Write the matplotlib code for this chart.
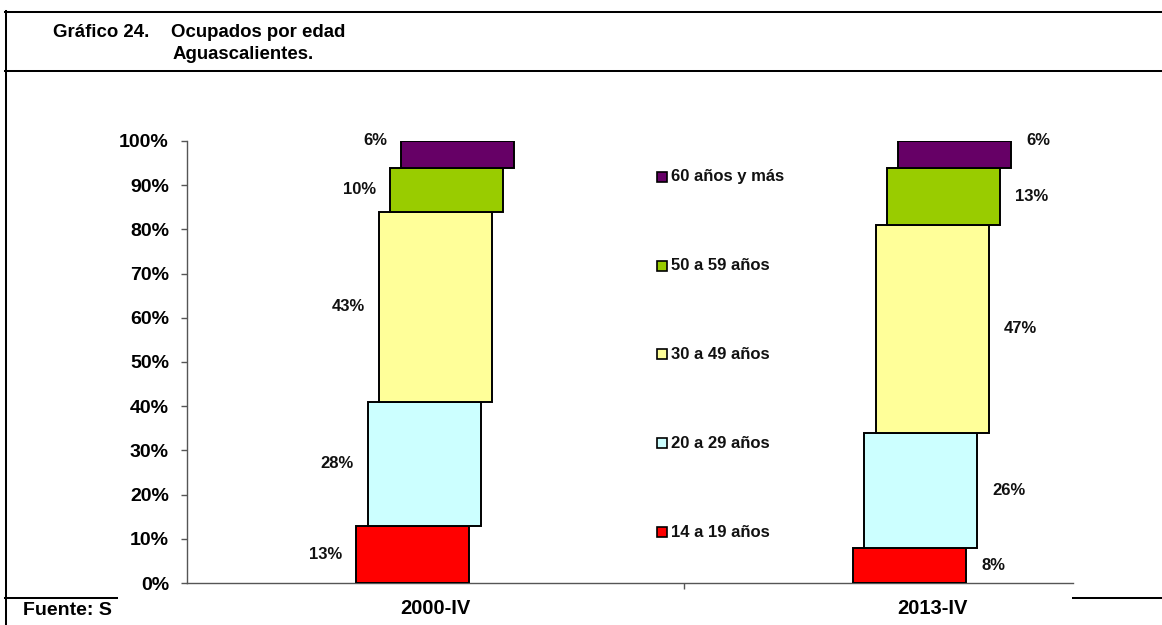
import matplotlib
matplotlib.use("Agg")
import matplotlib.pyplot as plt
from matplotlib.lines import Line2D
from matplotlib.patches import Rectangle

plt.rcParams['font.family'] = ['Liberation Sans', 'DejaVu Sans']
plt.rcParams['font.weight'] = 'bold'

# ---- data ----
categories = ["2000-IV", "2013-IV"]
series = ["14 a 19 años", "20 a 29 años", "30 a 49 años", "50 a 59 años", "60 años y más"]
values_2000 = [13, 28, 43, 10, 6]
values_2013 = [8, 26, 47, 13, 6]
colors = ["#FF0000", "#CCFFFF", "#FFFF99", "#99CC00", "#660066"]
yticks = [0, 10, 20, 30, 40, 50, 60, 70, 80, 90, 100]
ytick_labels = [f"{t}%" for t in yticks]
title_num = "Gráfico 24."
title_l1 = "Ocupados por edad"
title_l2 = "Aguascalientes."
source = "Fuente: S"

W, H = 1162, 625
fig = plt.figure(figsize=(W / 100, H / 100), dpi=100)

def fx(px):
    return px / W

def fy(py):
    return 1 - py / H

# axes placement (pixel based)
ax_l, ax_r, ax_b, ax_t = 187, 1073, 583, 141
ax = fig.add_axes([fx(ax_l), fy(ax_b), fx(ax_r - ax_l), (ax_b - ax_t) / H])
ax.set_ylim(0, 100)
ax.set_xlim(-0.5, 1.2837)

bar_w = 0.2274
step = 0.02264
data = [values_2000, values_2013]
for ci, vals in enumerate(data):
    bottom = 0
    for si, v in enumerate(vals):
        xc = ci + (si - 2) * step
        ax.bar(xc, v, width=bar_w, bottom=bottom, color=colors[si],
               edgecolor="black", linewidth=1.4, zorder=3)
        ylab = bottom + v / 2 if si < len(vals) - 1 else bottom + v
        if ci == 0:
            ax.annotate(f"{v}%", xy=(xc - bar_w / 2, ylab), xytext=(-10, 0),
                        textcoords="offset points", ha="right", va="center",
                        fontsize=12, fontweight="bold", color="#111111")
        else:
            ax.annotate(f"{v}%", xy=(xc + bar_w / 2, ylab), xytext=(11, 0),
                        textcoords="offset points", ha="left", va="center",
                        fontsize=12, fontweight="bold", color="#111111")
        bottom += v

# legend drawn manually (top entry = last series)
leg_x = 0.4467
sq_w = 10 / 497
sq_h = 10 / 4.42
for si, name in enumerate(series):
    yc = 11.5 + 20.1 * si
    ax.add_patch(Rectangle((leg_x, yc - sq_h / 2), sq_w, sq_h, facecolor=colors[si],
                           edgecolor="black", linewidth=1.2, clip_on=False, zorder=4))
    ax.text(leg_x + sq_w + 4 / 497, yc, name, ha="left", va="center",
            fontsize=12, fontweight="bold", color="#111111")

# axes styling
for s in ["top", "right"]:
    ax.spines[s].set_visible(False)
for s in ["left", "bottom"]:
    ax.spines[s].set_color("#555555")
    ax.spines[s].set_linewidth(1.0)
ax.set_yticks(yticks)
ax.set_yticklabels(ytick_labels, fontsize=14, fontweight="bold")
ax.tick_params(axis="y", length=4.5, width=1, color="#555555", pad=8.5)
ax.set_xticks([0.5])
ax.set_xticklabels([""])
ax.tick_params(axis="x", which="major", length=4.5, width=1, color="#555555")
ax.set_xticks([0, 1], minor=True)
ax.set_xticklabels(categories, minor=True, fontsize=14.5, fontweight="bold")
ax.tick_params(axis="x", which="minor", length=0, pad=11.5)

# frame lines
lw = 1.45
fig.add_artist(Line2D([fx(5), 1], [fy(12), fy(12)], color="black", lw=lw))
fig.add_artist(Line2D([fx(5), 1], [fy(71), fy(71)], color="black", lw=lw))
fig.add_artist(Line2D([fx(6), fx(6)], [fy(11), 0], color="black", lw=lw))
fig.add_artist(Line2D([fx(5), fx(117)], [fy(598), fy(598)], color="black", lw=lw))
fig.add_artist(Line2D([fx(1073), 1], [fy(598), fy(598)], color="black", lw=lw))

# titles
fig.text(fx(53), fy(37), title_num, fontsize=13.4, fontweight="bold", va="baseline", ha="left")
fig.text(fx(171), fy(37), title_l1, fontsize=13.4, fontweight="bold", va="baseline", ha="left")
fig.text(fx(173), fy(59), title_l2, fontsize=13.4, fontweight="bold", va="baseline", ha="left")
fig.text(fx(23), fy(615), source, fontsize=14, fontweight="bold", va="baseline", ha="left")

fig.savefig("out.png", dpi=100)
